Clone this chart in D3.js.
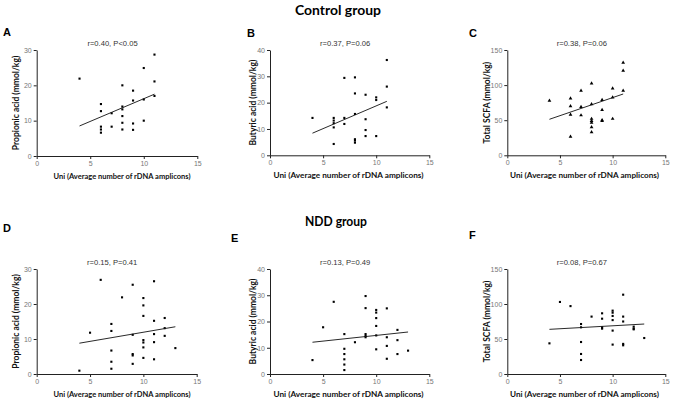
<!DOCTYPE html>
<html><head><meta charset="utf-8">
<script src="https://cdn.jsdelivr.net/npm/d3@7"></script>
<style>body{margin:0;background:#fff}svg{display:block}</style>
</head><body><svg id="c" width="673" height="401"></svg>
<script>
// ---- data ----
const groupTitles = ["Control group", "NDD group"];
const panelLetters = ["A","B","C","D","E","F"];
const yLabels = ["Propionic acid (mmol/kg)","Butyric acid (mmol/kg)","Total SCFA (mmol/kg)"];
const xLabel = "Uni (Average number of rDNA amplicons)";
const stats = ["r=0.40, P<0.05","r=0.37, P=0.06","r=0.38, P=0.06","r=0.15, P=0.41","r=0.13, P=0.49","r=0.08, P=0.67"];
const xTicks = [0,5,10,15];
const yTicksProp = [0,10,20,30];
const yTicksBut = [0,10,20,30,40];
const yTicksTot = [0,50,100,150];

const aX = [4,6,6,6,6,6,7,7,8,8,8,8,8,8,9,9,9,9,10,10,10,11,11,11];
const aY = [21.9,14.7,12.7,8.3,7.5,6.6,12.1,8.3,20,14,13.2,11.3,9.4,7.5,18.5,15.7,9.2,7.4,24.9,16,10,28.7,21.1,17];
const aFit = [[4,8.5],[11,17.5]];

const bX = [4,6,6,6,6,6,7,7,7,8,8,8,8,8,8,9,9,9,9,10,10,10,11,11,11];
const bY = [14.2,14.2,13.2,12.2,10.6,4.3,29.4,14.2,11.9,29.6,23.5,15.7,6.1,5.6,4.8,23,13.7,9.6,7.3,22,21,7.3,36.2,26.1,18.2];
const bFit = [[4,8.4],[11,20.5]];

const cX = [4,6,6,6,6,7,7,7,8,8,8,8,8,8,8,9,9,9,9,10,10,10,11,11,11];
const cY = [77.8,81,70,58,26.6,92,69,57,102.5,73,52,49,46.5,40,33,79,64.5,50,49,95.4,82.6,52,132,120.5,92];
const cFit = [[4,51.3],[11,87.3]];

const dX = [4,5,6,7,7,7,7,7,8,9,9,9,9,9,10,10,10,10,10,10,10,11,11,11,11,11,12,12,12,13];
const dY = [0.95,11.8,26.9,14.3,12.3,6.7,3.5,1.5,21.9,25.5,11.2,5.7,5.3,2.9,21.7,19.6,16.6,9.7,9,7.6,4.6,26.5,15.2,11.4,9.1,4.2,16,13.1,10.9,7.4];
const dFit = [[4,8.8],[13,13.5]];

const eX = [4,5,6,7,7,7,7,7,7,8,9,9,9,9,9,10,10,10,10,10,10,11,11,11,11,12,12,12,13];
const eY = [5.3,17.8,27.5,15.2,9.6,7.6,5.6,3.6,1.5,12.1,29.7,25.1,15.2,14.5,14,24.4,23.4,21.3,18.3,14.7,9.4,25,14,10.7,5.8,16.8,12.9,7.6,8.9];
const eFit = [[4,12.1],[13,16]];

const fX = [4,5,6,7,7,7,7,7,8,9,9,9,9,10,10,10,10,10,10,11,11,11,11,11,12,12,12,13];
const fY = [43.8,102.9,97,71.4,66.7,45.7,28.6,20,82,86.7,79,66.7,64.8,90.5,87.6,82.9,77,62,42,113.3,82,75,43,41,67.6,64.8,63.8,51.4];
const fFit = [[4,63.8],[13,71.4]];

// ---- layout ----
const svg = d3.select("#c");
svg.append("rect").attr("width",673).attr("height",401).attr("fill","#fff");

const panels = [
  {x:aX,y:aY,fit:aFit,yt:yTicksProp,ymax:30,px:[36.7,197.3],py:[156,50],sym:d3.symbolSquare,lab:yLabels[0],labX:16,xl:[122,137,7.9]},
  {x:bX,y:bY,fit:bFit,yt:yTicksBut,ymax:40,px:[270,429.3],py:[155.3,50],sym:d3.symbolSquare,lab:yLabels[1],labX:253,xl:[348.5,150,8.4]},
  {x:cX,y:cY,fit:cFit,yt:yTicksTot,ymax:150,px:[507.3,665.3],py:[155.3,50],sym:d3.symbolTriangle,lab:yLabels[2],labX:487,xl:[584.5,149,8.4]},
  {x:dX,y:dY,fit:dFit,yt:yTicksProp,ymax:30,px:[36.7,196.7],py:[374,269],sym:d3.symbolSquare,lab:yLabels[0],labX:16,xl:[122,137,7.9]},
  {x:eX,y:eY,fit:eFit,yt:yTicksBut,ymax:40,px:[270,429.3],py:[374,269],sym:d3.symbolSquare,lab:yLabels[1],labX:253,xl:[348.5,150,8.4]},
  {x:fX,y:fY,fit:fFit,yt:yTicksTot,ymax:150,px:[507.3,665.3],py:[374,269],sym:d3.symbolSquare,lab:yLabels[2],labX:487,xl:[584.5,149,8.4]}
];
const letterPos = [[3,36],[247,37],[469,37],[3,232],[231,242],[469,239]];

svg.append("text").attr("x",338).attr("y",14.5).attr("text-anchor","middle")
  .attr("font-family","Lato, 'Open Sans', sans-serif").attr("font-weight","bold").attr("font-size",14)
  .attr("textLength",86).attr("lengthAdjust","spacingAndGlyphs")
  .attr("fill","#000").text(groupTitles[0]);
svg.append("text").attr("x",336).attr("y",226).attr("text-anchor","middle")
  .attr("font-family","Lato, 'Open Sans', sans-serif").attr("font-weight","bold").attr("font-size",14)
  .attr("textLength",62).attr("lengthAdjust","spacingAndGlyphs")
  .attr("fill","#000").text(groupTitles[1]);

panels.forEach((p,i)=>{
  const g = svg.append("g");
  const x = d3.scaleLinear().domain([0,15]).range(p.px);
  const y = d3.scaleLinear().domain([0,p.ymax]).range(p.py);
  const xa = g.append("g").attr("transform",`translate(0,${p.py[0]})`)
    .call(d3.axisBottom(x).tickValues(xTicks).tickSize(3).tickSizeOuter(0).tickPadding(2));
  const ya = g.append("g").attr("transform",`translate(${p.px[0]},0)`)
    .call(d3.axisLeft(y).tickValues(p.yt).tickSize(3).tickSizeOuter(0).tickPadding(2));
  [xa,ya].forEach(a=>{
    a.select(".domain").attr("stroke","#222").attr("stroke-width",1);
    a.selectAll(".tick line").attr("stroke","#222");
    a.selectAll(".tick text").attr("fill","#777").attr("font-size",7)
      .attr("font-family","'Liberation Sans', Arial, sans-serif");
  });
  // points
  g.selectAll("path.pt").data(p.x.map((v,k)=>[v,p.y[k]])).join("path")
    .attr("class","pt")
    .attr("transform",d=>`translate(${x(d[0])},${y(d[1])})`)
    .attr("d",d3.symbol().type(p.sym).size(p.sym===d3.symbolTriangle?6:4.5))
    .attr("fill","#000");
  // fit line
  g.append("line").attr("x1",x(p.fit[0][0])).attr("y1",y(p.fit[0][1]))
    .attr("x2",x(p.fit[1][0])).attr("y2",y(p.fit[1][1]))
    .attr("stroke","#111").attr("stroke-width",0.9);
  // stats
  g.append("text").attr("x",(p.px[0]+p.px[1])/2-4.5).attr("y",p.py[1]-4)
    .attr("text-anchor","middle").attr("font-size",7.6)
    .attr("font-family","'Liberation Sans', Arial, sans-serif").attr("fill","#333").text(stats[i]);
  // x label
  g.append("text").attr("x",p.xl[0]).attr("y",p.py[0]+23)
    .attr("text-anchor","middle").attr("font-size",p.xl[2]).attr("font-weight","bold")
    .attr("textLength",p.xl[1]).attr("lengthAdjust","spacingAndGlyphs")
    .attr("font-family","Lato, 'Open Sans', sans-serif").attr("fill","#111").text(xLabel);
  // y label
  const cy = (p.py[0]+p.py[1])/2;
  g.append("text").attr("transform",`translate(${p.labX+3},${cy})rotate(-90)`)
    .attr("text-anchor","middle").attr("font-size",8.5).attr("font-weight","bold")
    .attr("font-family","Lato, 'Open Sans', sans-serif").attr("fill","#111").text(p.lab);
  // letter
  svg.append("text").attr("x",letterPos[i][0]).attr("y",letterPos[i][1])
    .attr("font-size",11).attr("font-weight","bold")
    .attr("font-family","'Liberation Sans', Arial, sans-serif").attr("fill","#000").text(panelLetters[i]);
});
</script></body></html>
